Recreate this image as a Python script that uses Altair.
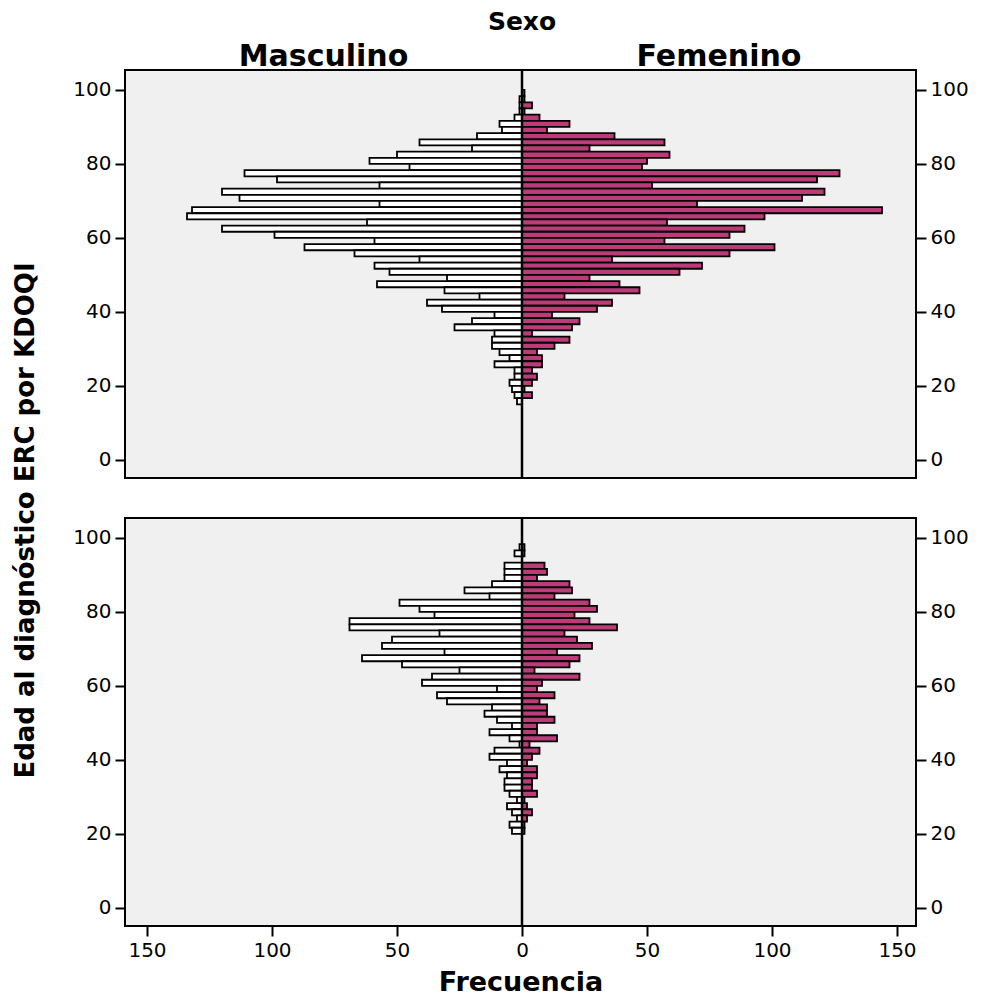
import altair as alt
import pandas as pd

FONT = "DejaVu Sans"
PINK = "#bc3c7a"

# age bins (years): 51 bins of 5/3 years from 100 down to 15
top_age = 100
bin_width = 5 / 3

# counts per bin, from the oldest bin (98.3-100) down to the youngest (15-16.7)
male_top = [0, 1, 1, 1, 3, 9, 8, 18, 41, 20, 50, 61, 45, 111, 98, 57, 120, 113, 57, 132,
            134, 62, 120, 99, 59, 87, 67, 41, 59, 53, 30, 58, 31, 17, 38, 32, 11, 20, 27, 11,
            12, 12, 9, 5, 11, 3, 3, 5, 4, 3, 2]
female_top = [1, 1, 4, 1, 7, 19, 10, 37, 57, 27, 59, 50, 48, 127, 118, 52, 121, 112, 70, 144,
              97, 58, 89, 83, 57, 101, 83, 36, 72, 63, 27, 39, 47, 17, 36, 30, 12, 23, 20, 4,
              19, 13, 6, 8, 8, 4, 6, 4, 1, 4, 0]
male_bottom = [0, 1, 3, 0, 7, 7, 7, 12, 23, 13, 49, 41, 35, 69, 69, 33, 52, 56, 31, 64,
               48, 25, 36, 40, 10, 34, 30, 12, 15, 10, 4, 13, 5, 1, 11, 13, 6, 9, 6, 7,
               7, 5, 2, 6, 4, 2, 5, 4, 0, 0, 0]
female_bottom = [0, 1, 1, 0, 9, 10, 6, 19, 20, 13, 27, 30, 21, 27, 38, 17, 22, 28, 14, 23,
                 19, 5, 23, 8, 6, 13, 7, 10, 10, 13, 6, 6, 14, 3, 7, 4, 2, 6, 6, 4,
                 4, 6, 1, 2, 4, 2, 1, 1, 0, 0, 0]

sexes = ["Masculino", "Femenino"]
x_ticks = [-150, -100, -50, 0, 50, 100, 150]
y_ticks = [0, 20, 40, 60, 80, 100]
x_domain = [-158.8, 157.6]
y_domain = [-4.9, 105.4]


def make_df(male, female):
    rows = []
    for k, (m, f) in enumerate(zip(male, female)):
        hi = top_age - k * bin_width
        lo = hi - bin_width
        if m > 0:
            rows.append({"sex": sexes[0], "count": m, "lo": lo, "hi": hi})
        if f > 0:
            rows.append({"sex": sexes[1], "count": f, "lo": lo, "hi": hi})
    return pd.DataFrame(rows)


xs = alt.Scale(domain=x_domain, nice=False, zero=False)
ys = alt.Scale(domain=y_domain, nice=False, zero=False)

W, H = 791, 408


def panel(df, show_x, headers):
    if show_x:
        xaxis = alt.Axis(values=x_ticks, labelExpr="abs(datum.value)", title="Frecuencia",
                         titleFont=FONT, titleFontSize=27, titleFontWeight="bold",
                         titlePadding=9, labelPadding=4)
    else:
        xaxis = None
    base = alt.Chart(df)
    male = base.transform_filter(f"datum.sex == '{sexes[0]}'").transform_calculate(
        neg="-datum.count", zero="0"
    ).mark_bar(fill="white", stroke="black", strokeWidth=1.8).encode(
        x=alt.X("neg:Q", scale=xs, axis=xaxis),
        x2="zero:Q",
        y=alt.Y("lo:Q", scale=ys, axis=alt.Axis(orient="left", values=y_ticks, title=None)),
        y2="hi:Q",
    )
    female = base.transform_filter(f"datum.sex == '{sexes[1]}'").transform_calculate(
        zero="0"
    ).mark_bar(fill=PINK, stroke="black", strokeWidth=1.8).encode(
        x=alt.X("zero:Q", scale=xs, axis=xaxis),
        x2="count:Q",
        y=alt.Y("lo:Q", scale=ys, axis=alt.Axis(orient="right", values=y_ticks, title=None)),
        y2="hi:Q",
    )
    rule = alt.Chart(pd.DataFrame({"v": [0]})).mark_rule(color="black", strokeWidth=2.5).encode(
        x=alt.X("v:Q", scale=xs, axis=xaxis)
    )
    layers = [male, female, rule]
    if headers:
        hdf = pd.DataFrame({"label": sexes, "pos": [x_domain[0] / 2, x_domain[1] / 2]})
        head = alt.Chart(hdf).mark_text(font=FONT, fontSize=30, fontWeight="bold",
                                        baseline="middle", color="black").encode(
            x=alt.X("pos:Q", scale=xs, axis=xaxis),
            y=alt.value(-13),
            text="label:N",
        )
        sdf = pd.DataFrame({"label": ["Sexo"], "pos": [0]})
        sexo = alt.Chart(sdf).mark_text(font=FONT, fontSize=25, fontWeight="bold",
                                        baseline="middle", color="black").encode(
            x=alt.X("pos:Q", scale=xs, axis=xaxis),
            y=alt.value(-48),
            text="label:N",
        )
        layers += [head, sexo]
    return alt.layer(*layers).resolve_scale(y="independent").properties(width=W, height=H)


top = panel(make_df(male_top, female_top), False, True)
bottom = panel(make_df(male_bottom, female_bottom), True, False)

chart = alt.vconcat(top, bottom, spacing=34).properties(
    title=alt.TitleParams("Edad al diagnóstico ERC por KDOQI", orient="left", anchor="middle",
                          font=FONT, fontSize=26, fontWeight="bold", color="black", offset=33,
                          dx=-18),
    padding={"left": 4, "top": 1, "right": 5, "bottom": 0},
).configure_view(
    fill="#f0f0f0", stroke="black", strokeWidth=2
).configure_axis(
    domain=False, grid=False, ticks=True, tickColor="black", tickWidth=2, tickSize=10,
    labelFont=FONT, labelFontSize=20, labelColor="black", titleColor="black", labelPadding=4
)

chart.save("out.html", embed_options={"renderer": "svg", "actions": False})
